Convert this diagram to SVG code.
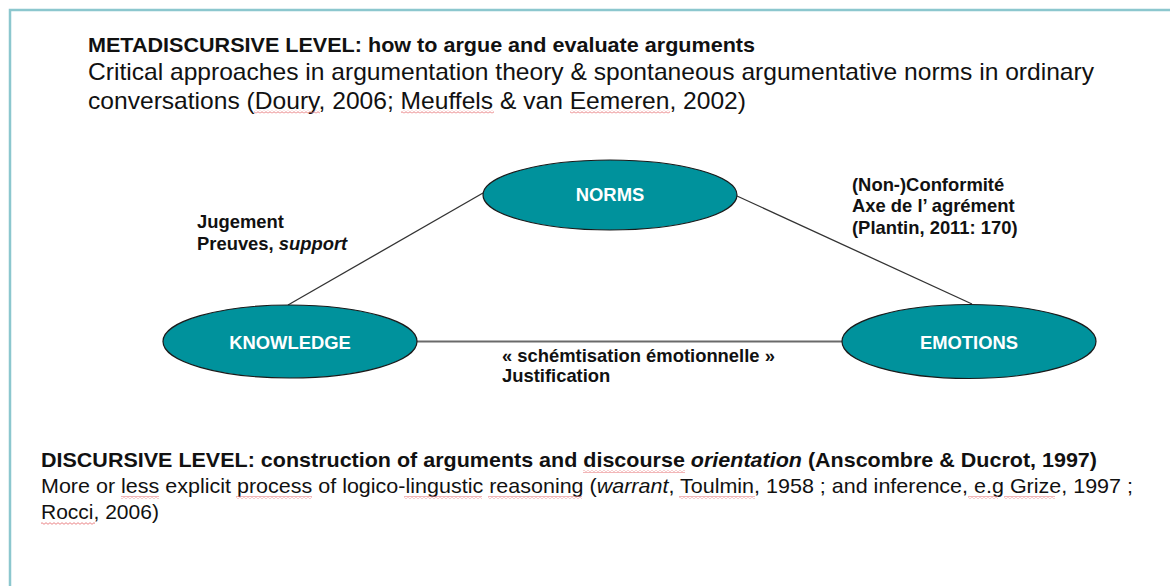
<svg xmlns="http://www.w3.org/2000/svg" width="1170" height="586" viewBox="0 0 1170 586">
<defs>
<style>
.t{font-family:"Liberation Sans",Arial,sans-serif;fill:#111}
.b{font-weight:bold}
.i{font-style:italic}
.lbl{font-family:"Liberation Sans",Arial,sans-serif;font-weight:bold;font-size:18.4px;fill:#111}
.node ellipse{fill:#00929c;stroke:#1a1a1a;stroke-width:1.2}
.node text{font-family:"Liberation Sans",Arial,sans-serif;font-weight:bold;font-size:18.4px;fill:#fff;text-anchor:middle}
.diag{stroke:#333;stroke-width:1.3;fill:none}
.horiz{stroke:#6a6a6a;stroke-width:2;fill:none}
.sq{fill:url(#squig)}
</style>
<pattern id="squig" patternUnits="userSpaceOnUse" width="4" height="3">
<polyline points="0,2.3 2,0.7 4,2.3" fill="none" stroke="#e8787a" stroke-width="0.9"/>
</pattern>
</defs>
<rect width="1170" height="586" fill="#fff"/>
<g id="frame">
<path d="M10,586 L10,10 L1170,10" fill="none" stroke="#8cc7ce" stroke-width="2.5"/>
</g>
<g id="header">
<text class="t b" x="88" y="51.5" font-size="21" textLength="667" lengthAdjust="spacingAndGlyphs">METADISCURSIVE LEVEL: how to argue and evaluate arguments</text>
<text class="t" x="88" y="79.5" font-size="24" textLength="1006" lengthAdjust="spacingAndGlyphs">Critical approaches in argumentation theory &amp; spontaneous argumentative norms in ordinary</text>
<text class="t" x="88" y="108.5" font-size="24" textLength="658" lengthAdjust="spacingAndGlyphs">conversations (Doury, 2006; Meuffels &amp; van Eemeren, 2002)</text>
<rect class="sq" x="254" y="110.5" width="66" height="3"/>
<rect class="sq" x="401" y="110.5" width="93" height="3"/>
<rect class="sq" x="570" y="110.5" width="100" height="3"/>
</g>
<g id="connectors">
<line class="diag" x1="483" y1="193" x2="288" y2="305"/>
<line class="diag" x1="737" y1="196" x2="972" y2="304"/>
<line class="horiz" x1="417" y1="341.5" x2="842" y2="341.5"/>
</g>
<g id="edge-labels">
<text class="lbl" x="197" y="228">Jugement</text>
<text class="lbl" x="197" y="249.5">Preuves, <tspan class="i">support</tspan></text>
<text class="lbl" x="852" y="190.5">(Non-)Conformité</text>
<text class="lbl" x="852" y="212">Axe de l’ agrément</text>
<text class="lbl" x="852" y="234">(Plantin, 2011: 170)</text>
<text class="lbl" x="502" y="361.5">« schémtisation émotionnelle »</text>
<text class="lbl" x="502" y="381.5">Justification</text>
</g>
<g id="node-norms" class="node">
<ellipse cx="610" cy="195" rx="127" ry="35"/>
<text x="610" y="201">NORMS</text>
</g>
<g id="node-knowledge" class="node">
<ellipse cx="290" cy="341.5" rx="127" ry="36.5"/>
<text x="290" y="349">KNOWLEDGE</text>
</g>
<g id="node-emotions" class="node">
<ellipse cx="969" cy="341.5" rx="127" ry="37"/>
<text x="969" y="349">EMOTIONS</text>
</g>
<g id="footer">
<text class="t b" x="41" y="467" font-size="21" textLength="1056" lengthAdjust="spacingAndGlyphs">DISCURSIVE LEVEL: construction of arguments and discourse <tspan class="i">orientation</tspan> (Anscombre &amp; Ducrot, 1997)</text>
<text class="t" x="41" y="493" font-size="21" textLength="1092" lengthAdjust="spacingAndGlyphs">More or less explicit process of logico-lingustic reasoning (<tspan class="i">warrant</tspan>, Toulmin, 1958 ; and inference, e.g Grize, 1997 ;</text>
<text class="t" x="41" y="519" font-size="21">Rocci, 2006)</text>
<rect class="sq" x="583" y="470" width="102" height="3"/>
<rect class="sq" x="121" y="496" width="38" height="3"/>
<rect class="sq" x="236" y="496" width="76" height="3"/>
<rect class="sq" x="404" y="496" width="78" height="3"/>
<rect class="sq" x="488" y="496" width="94" height="3"/>
<rect class="sq" x="679" y="496" width="76" height="3"/>
<rect class="sq" x="968" y="496" width="30" height="3"/>
<rect class="sq" x="1004" y="496" width="51" height="3"/>
<rect class="sq" x="41" y="522" width="54" height="3"/>
</g>
</svg>
